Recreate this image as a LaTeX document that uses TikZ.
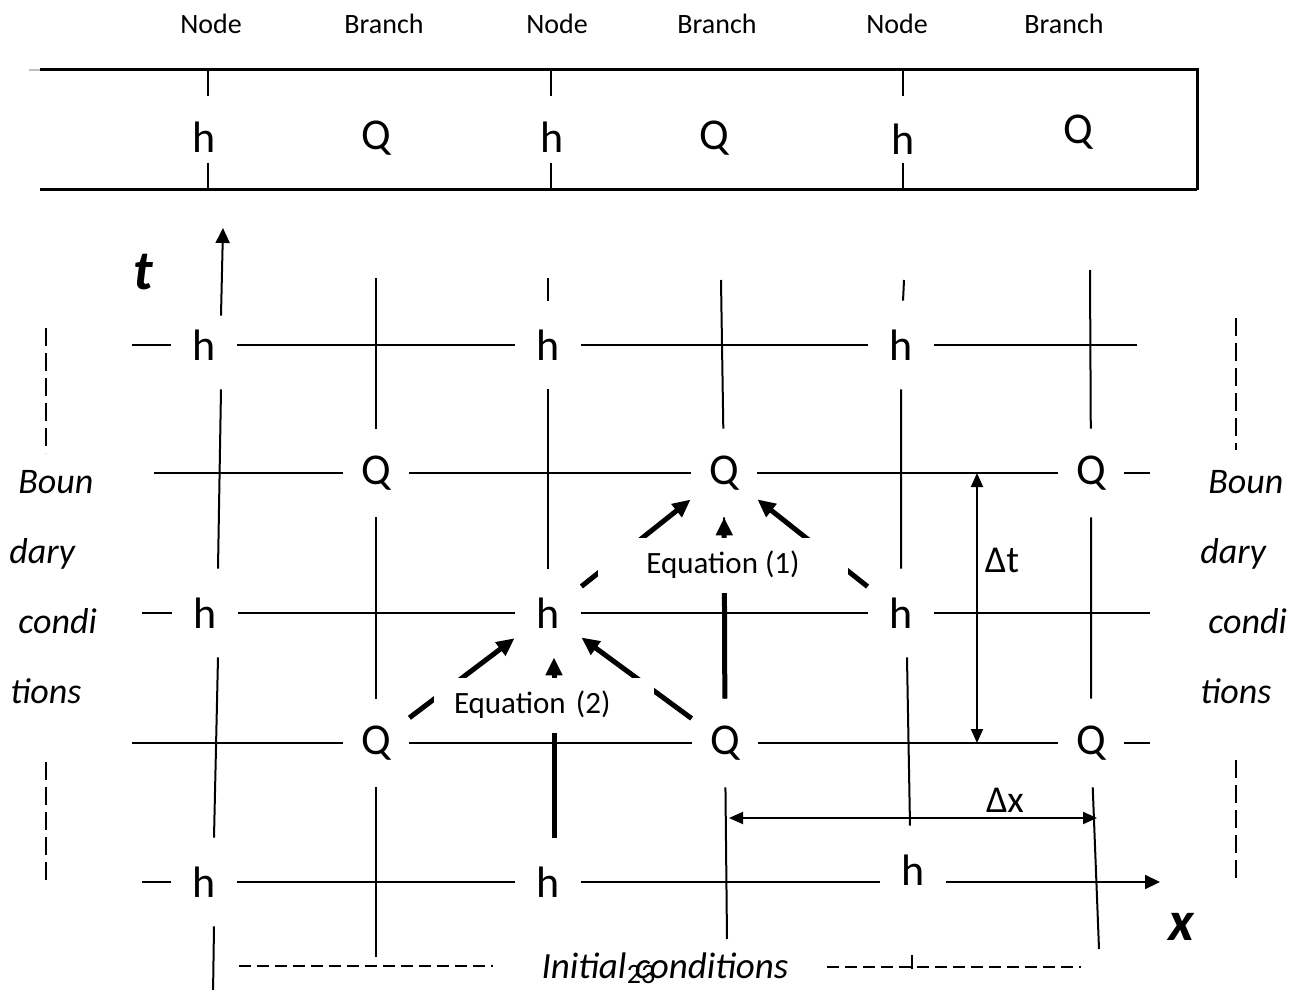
\documentclass[tikz,border=0pt]{standalone}
\usepackage{fontspec}
\setmainfont{Carlito}
\usepackage{tikz}
\usetikzlibrary{arrows.meta, calc}

\tikzset{
    gridline/.style={line width=1pt},
    bandline/.style={line width=1.5pt},
    flowarrow/.style={line width=2.5pt, -{Triangle[length=9pt,width=8pt]}},
    axisarrow/.style={line width=1pt, -{Triangle[length=7.5pt,width=7pt]}},
    dimarrow/.style={line width=1pt,
        {Triangle[length=7pt,width=6pt]}-{Triangle[length=7pt,width=6pt]}},
    cell/.style={font=\fontsize{22}{24}\selectfont, inner sep=0pt,
        minimum width=33pt, minimum height=44pt},
    bandcell/.style={font=\fontsize{22}{24}\selectfont},
    toplabel/.style={font=\fontsize{14}{16}\selectfont},
    eqbox/.style={fill=white, inner sep=0pt, minimum height=27.5pt,
        font=\fontsize{15.5}{18}\selectfont},
    bclabel/.style={font=\fontsize{18}{20}\selectfont\itshape,
        anchor=base west, inner sep=0pt},
    axislabel/.style={font=\fontsize{28}{30}\selectfont\bfseries\itshape},
    dimlabel/.style={font=\fontsize{19}{21}\selectfont},
    bounddash/.style={line width=1pt, dash pattern=on 9pt off 3.5pt},
    initdash/.style={line width=1pt, dash pattern=on 6pt off 3pt},
}

\begin{document}
\begin{tikzpicture}[x=0.5pt, y=-0.5pt]
    \useasboundingbox (0,0) rectangle (1303,990);

    % Top band: node / branch layout
    \foreach \lx/\lt in {211/Node, 384/Branch, 557/Node, 717/Branch, 897/Node, 1064/Branch}
        \node[toplabel] (top\lx) at (\lx,24) {\lt};
    \draw[gray!50, line width=0.6pt] (29,70) -- (40,70);
    \draw[bandline] (40,70) -- (1197,70) -- (1197,190);
    \draw[bandline] (40,190) -- (1197,190);
    \foreach \tx in {208,551,903} {
        \draw[gridline] (\tx,70) -- (\tx,96);
        \draw[gridline] (\tx,163) -- (\tx,190);
    }
    \foreach \n/\px/\py/\lt in {bh1/204/137/h, bq1/376/138/Q, bh2/552/137/h,
                               bq2/714/138/Q, bh3/903/139/h, bq3/1078/132/Q}
        \node[bandcell] (\n) at (\px,\py) {\lt};

    % Staggered grid: h at nodes, Q at branches
    \foreach \n/\px/\py/\lt in {h11/204/345/h, h12/548/345/h, h13/901/345/h,
                               q21/376/473/Q, q22/724/473/Q, q23/1091/473/Q,
                               h21/205/613/h, h22/548/613/h, h23/901/613/h,
                               q31/376/743/Q, q32/725/743/Q, q33/1091/743/Q,
                               h31/204/882/h, h32/548/882/h, h33/913/870/h}
        \node[cell] (\n) at (\px,\py) {\lt};

    \coordinate (tend) at (223,228);
    \coordinate (xend) at (1160,882);

    % Grid lines (rows)
    \draw[gridline] (132,345) -- (h11) -- (h12) -- (h13) -- (1137,345);
    \draw[gridline] (154,473) -- (q21) -- (q22) -- (q23) -- (1150,473);
    \draw[gridline] (142,613) -- (h21) -- (h22) -- (h23) -- (1150,613);
    \draw[gridline] (132,743) -- (q31) -- (q32) -- (q33) -- (1150,743);
    \draw[gridline] (142,882) -- (h31) -- (h32);
    \draw[gridline] (h32.east) -- (h32.east -| h33.west);
    \draw[axisarrow] (h33.east |- h32.east) -- (xend);

    % Grid lines (columns)
    \draw[axisarrow] ([xshift=8.5pt, yshift=-7.5pt]h11.north) -- (tend);
    \draw[gridline] ([xshift=8.5pt]h11.south) -- ([xshift=6.5pt]h21.north);
    \draw[gridline] ([xshift=6.5pt]h21.south) -- ([xshift=5pt]h31.north);
    \draw[gridline] ([xshift=5pt]h31.south) -- (213,995);
    \draw[gridline] (376,278) -- (q21) -- (q31) -- (376,957);
    \draw[gridline] (548,278) -- (h12) -- (h22);
    \draw[gridline] (721,280) -- (q22) -- (q32) -- (727,939);
    \draw[gridline] (904,280) -- (h13) -- (h23);
    \draw[gridline] ([xshift=3pt]h23.south) -- ([xshift=-1.5pt]h33.north);
    \draw[gridline] (912,955) -- (912,969);
    \draw[gridline] (1090,270) -- (q23) -- (q33) -- (1099,949);

    % Dependencies of the two equations
    \draw[flowarrow] (q31) -- (h22);
    \draw[flowarrow] (q32) -- (h22);
    \draw[flowarrow] ([xshift=3pt]h32.north) -- ([xshift=3pt]h22.south);
    \draw[flowarrow] (h22) -- (q22);
    \draw[flowarrow] (h23) -- (q22);
    \draw[flowarrow] (q32) -- (q22);
    \node[eqbox, minimum width=125pt] (eqone) at (723,565) {Equation (1)};
    \node[eqbox, text width=90pt, inner xsep=10pt, align=left] (eqtwo)
        at (544,705) {Equation (2)};

    % Step sizes
    \coordinate (dttop) at (977,473);
    \coordinate (dtbot) at (977,743);
    \draw[dimarrow] (dttop) -- (dtbot);
    \node[dimlabel] (dtlab) at (1002,560) {Δt};
    \coordinate (dxleft) at (729,818);
    \coordinate (dxright) at (1097,818);
    \draw[dimarrow] (dxleft) -- (dxright);
    \node[dimlabel] (dxlab) at (1005,800) {Δx};

    % Axis labels
    \node[axislabel] (tlab) at (143,272) {t};
    \node[axislabel] (xlab) at (1181,927) {x};

    % Boundary conditions
    \draw[bounddash] (46,328) -- (46,453);
    \draw[bounddash] (46,762) -- (46,883);
    \draw[bounddash] (1236,318) -- (1236,450);
    \draw[bounddash] (1236,760) -- (1236,883);
    \node[bclabel] (bl1) at (18,493) {Boun};
    \node[bclabel] (bl2) at (9,563) {dary};
    \node[bclabel] (bl3) at (18,633) {condi};
    \node[bclabel] (bl4) at (10,703) {tions};
    \node[bclabel] (br1) at (1208,493) {Boun};
    \node[bclabel] (br2) at (1200,563) {dary};
    \node[bclabel] (br3) at (1208,633) {condi};
    \node[bclabel] (br4) at (1200,703) {tions};

    % Initial conditions
    \draw[initdash] (239,966) -- (493,966);
    \draw[initdash] (827,967) -- (1081,967);
    \node[font=\fontsize{18.5}{20}\selectfont\itshape, anchor=base] (initlab)
        at (665,978) {Initial conditions};
    \node[font=\fontsize{14}{16}\selectfont, anchor=base] (pagenum) at (641,983) {23};
\end{tikzpicture}
\end{document}
